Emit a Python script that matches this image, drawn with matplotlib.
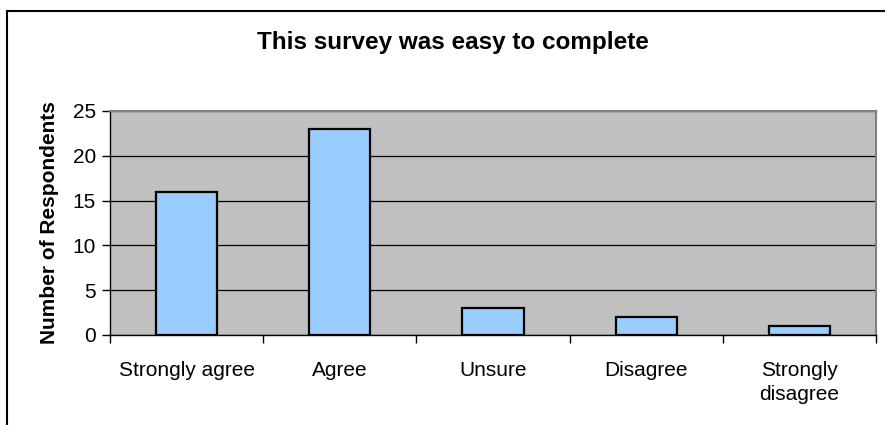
import matplotlib
matplotlib.use("Agg")
import matplotlib.pyplot as plt
from matplotlib.patches import Rectangle
from matplotlib.ticker import FixedLocator, NullFormatter
import numpy as np

categories = ["Strongly agree", "Agree", "Unsure", "Disagree", "Strongly\ndisagree"]
respondents = [16, 23, 3, 2, 1]
y_ticks = [0, 5, 10, 15, 20, 25]

plt.rcParams['font.family'] = ['Liberation Sans', 'DejaVu Sans']

fig = plt.figure(figsize=(8.85, 4.25), dpi=100)
fig.patch.set_facecolor("white")

# chart frame
fig.patches.append(Rectangle((7 / 885, -0.05), 1.2, 1 - 11 / 425 + 0.05,
                             transform=fig.transFigure, fill=False,
                             edgecolor="black", linewidth=1.5, zorder=0))

ax = fig.add_axes([110 / 885, 1 - 335 / 425, 766 / 885, 224 / 425])
ax.set_facecolor("#C0C0C0")

x = np.arange(len(categories))
ax.bar(x, respondents, width=0.4, color="#99CCFF", edgecolor="black",
       linewidth=1.6, zorder=3)

ax.set_xlim(-0.5, len(categories) - 0.5)
ax.set_ylim(0, 25)
ax.set_yticks(y_ticks)
ax.yaxis.grid(True, color="black", linewidth=0.9, zorder=1)
ax.set_axisbelow(True)

ax.set_xticks(x)
ax.set_xticklabels(categories, fontsize=15, va="top", linespacing=1.3)
ax.tick_params(axis="x", which="major", length=0, pad=19)
ax.xaxis.set_minor_locator(FixedLocator(np.arange(-0.5, len(categories), 1.0)))
ax.xaxis.set_minor_formatter(NullFormatter())
ax.tick_params(axis="x", which="minor", length=6, width=1, color="black",
               direction="out")
ax.tick_params(axis="y", length=6, width=1, labelsize=15, pad=4)

for side in ("top", "right"):
    ax.spines[side].set_color("#808080")
    ax.spines[side].set_linewidth(1.5)
for side in ("left", "bottom"):
    ax.spines[side].set_color("black")
    ax.spines[side].set_linewidth(1.0)

ax.set_ylabel("Number of Respondents", fontsize=15, fontweight="bold",
              labelpad=10)
fig.text(453 / 885, 1 - 42 / 425, "This survey was easy to complete",
         fontsize=17.5, fontweight="bold", ha="center", va="center")

fig.savefig("out.png", dpi=100)
